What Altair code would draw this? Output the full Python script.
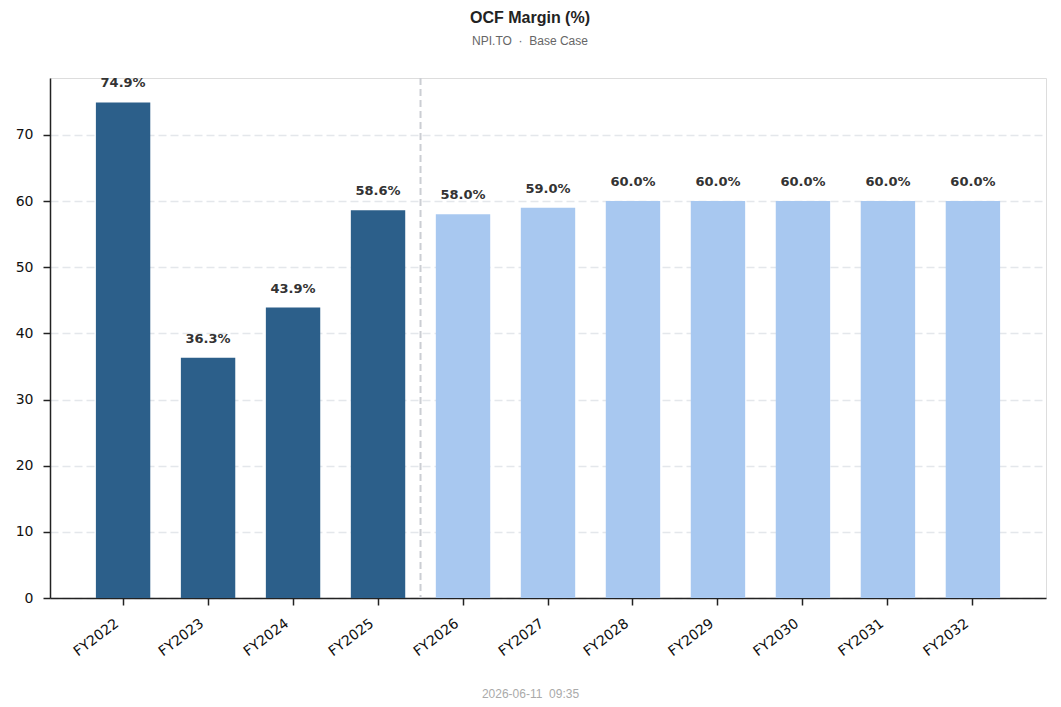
import altair as alt
import pandas as pd

years = ["FY2022", "FY2023", "FY2024", "FY2025", "FY2026", "FY2027",
         "FY2028", "FY2029", "FY2030", "FY2031", "FY2032"]
values = [74.9, 36.3, 43.9, 58.6, 58.0, 59.0, 60.0, 60.0, 60.0, 60.0, 60.0]
kind = ["Actual"] * 4 + ["Projected"] * 7

df = pd.DataFrame({"year": years, "value": values, "kind": kind})
df["label"] = [f"{v:.1f}%" for v in values]

pad_inner = 0.36
pad_outer = 0.54
plot_w = 996
step = plot_w / (len(years) - pad_inner + 2 * pad_outer)

NB = "\u00a0"

xenc = alt.X("year:N", sort=years,
             scale=alt.Scale(paddingInner=pad_inner, paddingOuter=pad_outer),
             axis=alt.Axis(title=f"2026-06-11{NB}{NB}09:35", labelAngle=-37,
                           labelAlign="right", labelBaseline="top",
                           labelFontSize=14, labelColor="#111",
                           labelFont="DejaVu Sans", labelPadding=11,
                           labelOffset=-10,
                           tickSize=7, tickColor="#222", tickWidth=1.5,
                           domainColor="#222", domainWidth=1.5, grid=False,
                           titleColor="#aaaaaa", titleFontSize=12,
                           titleFontWeight="normal", titleFont="Liberation Sans",
                           titleX=480, titleY=95, titleBaseline="middle"))

yscale = alt.Scale(domain=[0, 78.6], nice=False)

bars = alt.Chart(df).mark_bar().encode(
    x=xenc,
    y=alt.Y("value:Q", scale=yscale,
            axis=alt.Axis(title=None, values=[0, 10, 20, 30, 40, 50, 60, 70],
                          labelFontSize=14, labelColor="#111",
                          labelFont="DejaVu Sans", tickSize=7, tickColor="#222",
                          tickWidth=1.5, domainColor="#222", domainWidth=1.5,
                          gridColor="#e4e7eb", gridDash=[8, 4], gridWidth=1.3,
                          labelPadding=10)),
    color=alt.Color("kind:N", legend=None,
                    scale=alt.Scale(domain=["Actual", "Projected"],
                                    range=["#2c5f8a", "#a8c8f0"])),
)

labels = alt.Chart(df).mark_text(
    baseline="bottom", dy=-12, font="DejaVu Sans", fontWeight="bold",
    fontSize=13, color="#333333"
).encode(
    x=alt.X("year:N", sort=years),
    y=alt.Y("value:Q", scale=yscale),
    text="label:N",
)

divider = alt.Chart(pd.DataFrame({"year": ["FY2026"]})).mark_rule(
    color="#cbced3", strokeDash=[7, 4], strokeWidth=2,
    xOffset=-step * pad_inner / 2
).encode(
    x=alt.X("year:N", sort=years, bandPosition=0),
)

chart = alt.layer(bars, labels, divider).properties(
    width=plot_w, height=520,
    title=alt.TitleParams(
        text="OCF Margin (%)",
        subtitle=f"NPI.TO{NB}{NB}·{NB}{NB}Base Case",
        anchor="middle", dx=-18, offset=30,
        font="Liberation Sans", fontSize=16, fontWeight="bold", color="#222",
        subtitleFont="Liberation Sans", subtitleFontSize=12,
        subtitleColor="#666", subtitlePadding=10,
    ),
    autosize=alt.AutoSizeParams(type="none"),
    padding={"left": 42, "top": 70, "right": 7, "bottom": 100},
).configure_view(fill="#f7f8fa", stroke=None).configure(background="white")

chart.save("out.html", embed_options={"renderer": "svg", "actions": False})
